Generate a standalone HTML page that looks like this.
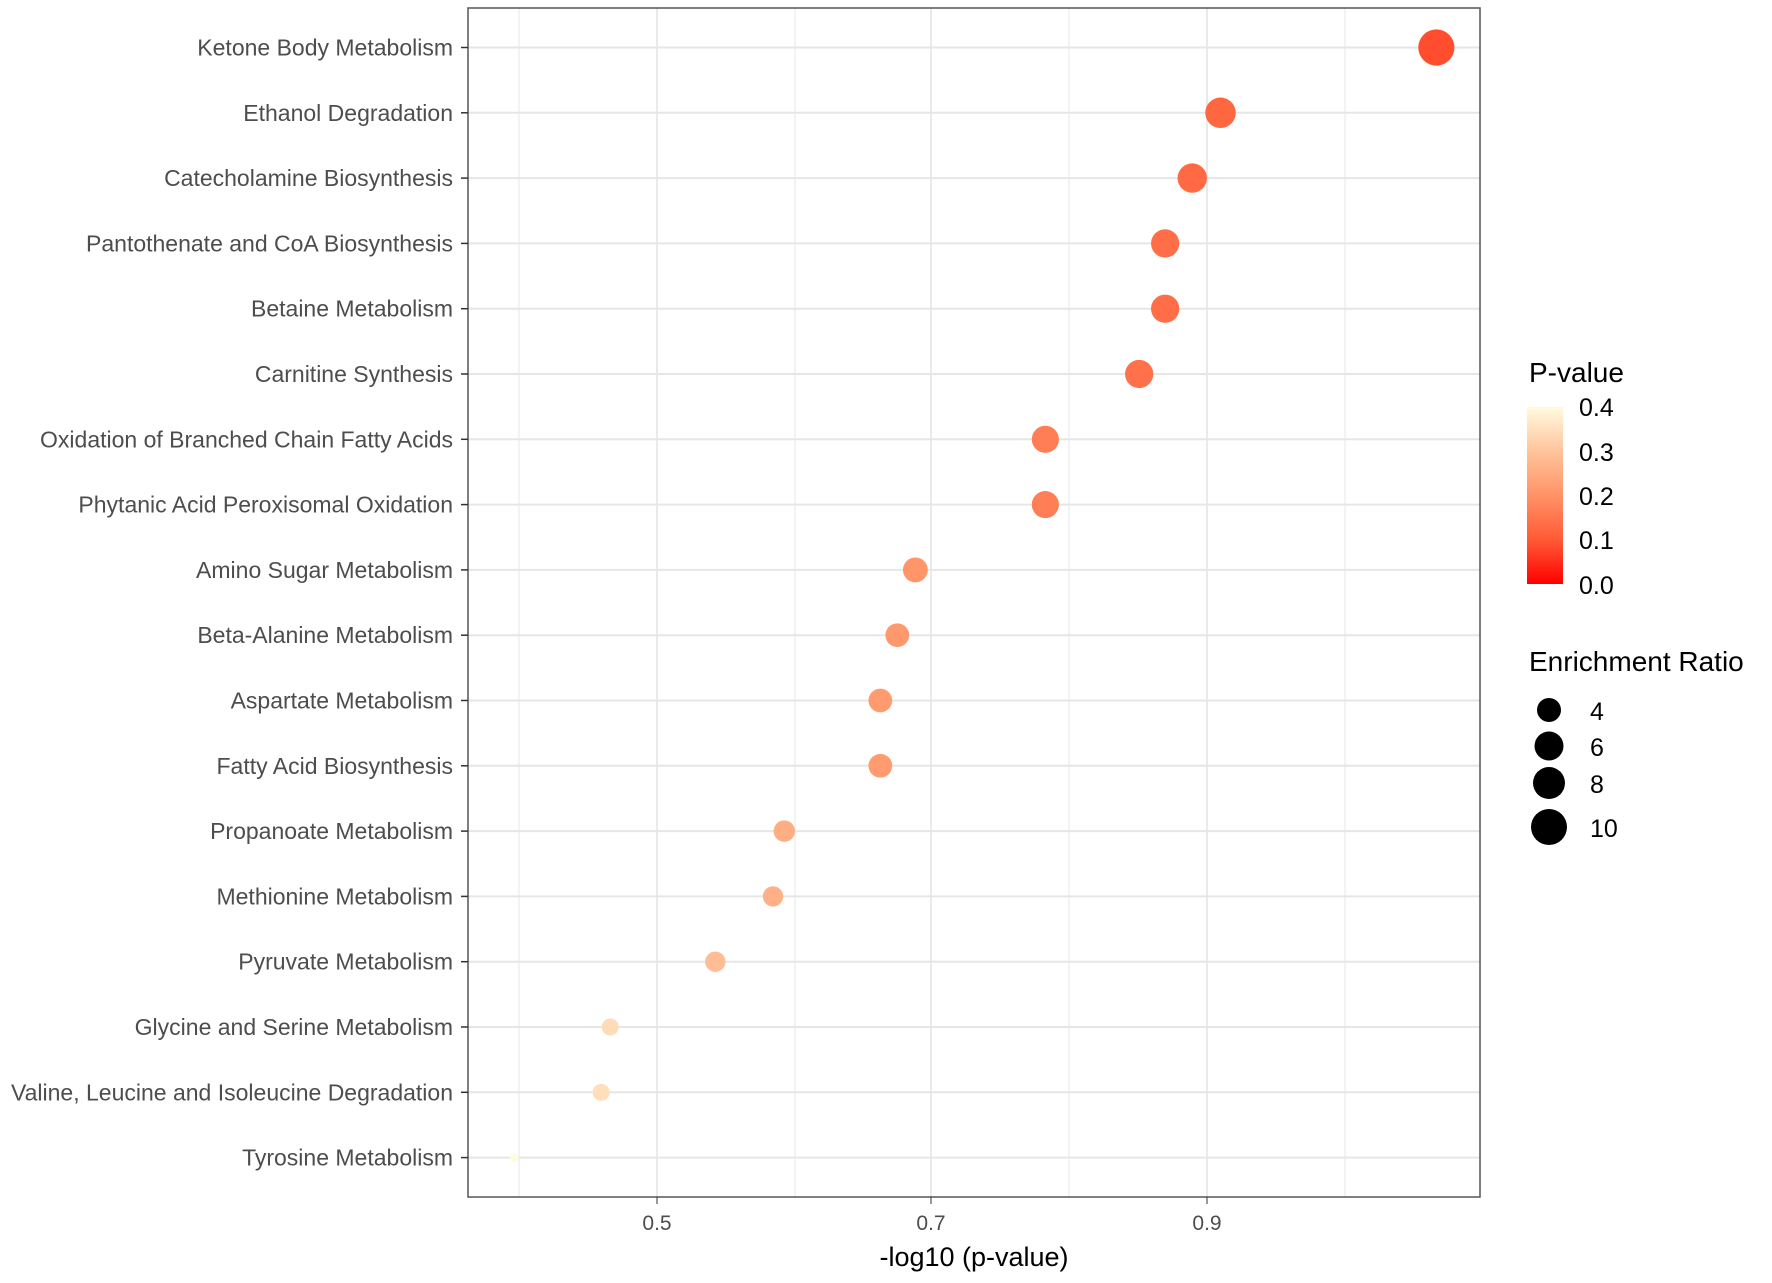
<!DOCTYPE html>
<html><head><meta charset="utf-8"><style>body{margin:0;background:#fff}svg{display:block}</style></head>
<body>
<svg id="s" width="1772" height="1283" xmlns="http://www.w3.org/2000/svg" font-family="Liberation Sans, sans-serif">
<defs><linearGradient id="g" x1="0" y1="1" x2="0" y2="0">
<stop offset="0" stop-color="#FF0000"/><stop offset="0.25" stop-color="#FF5A36"/><stop offset="0.5" stop-color="#FF9266"/><stop offset="0.75" stop-color="#FFC49C"/><stop offset="1" stop-color="#FFFBE0"/></linearGradient></defs>
<rect x="468" y="8" width="1012" height="1189" fill="#fff"/>
<g id="grid"></g>
<rect x="468" y="8" width="1012" height="1189" fill="none" stroke="#555" stroke-width="1.5"/>
<g id="pts"></g>
<g font-size="21" fill="#4d4d4d" text-anchor="middle">
<text x="657" y="1230">0.5</text><text x="931" y="1230">0.7</text><text x="1207" y="1230">0.9</text></g>
<line x1="657" y1="1197" x2="657" y2="1204" stroke="#333"/><line x1="931" y1="1197" x2="931" y2="1204" stroke="#333"/><line x1="1207" y1="1197" x2="1207" y2="1204" stroke="#333"/>
<text x="974" y="1266" font-size="27" text-anchor="middle" fill="#000">-log10 (p-value)</text>
<text x="1529" y="382" font-size="28" fill="#000">P-value</text>
<rect x="1527" y="407" width="36" height="177" fill="url(#g)"/>
<g font-size="25" fill="#000"><text x="1579" y="416">0.4</text><text x="1579" y="461">0.3</text><text x="1579" y="505">0.2</text><text x="1579" y="549">0.1</text><text x="1579" y="594">0.0</text>
<text x="1529" y="671" font-size="28">Enrichment Ratio</text>
<text x="1590" y="720">4</text><text x="1590" y="756">6</text><text x="1590" y="793">8</text><text x="1590" y="837">10</text></g>
<circle cx="1549" cy="710" r="12"/><circle cx="1549" cy="746" r="14.5"/><circle cx="1549" cy="783" r="16"/><circle cx="1549" cy="827" r="18"/>
</svg>
<script>
var names=["Ketone Body Metabolism","Ethanol Degradation","Catecholamine Biosynthesis","Pantothenate and CoA Biosynthesis","Betaine Metabolism","Carnitine Synthesis","Oxidation of Branched Chain Fatty Acids","Phytanic Acid Peroxisomal Oxidation","Amino Sugar Metabolism","Beta-Alanine Metabolism","Aspartate Metabolism","Fatty Acid Biosynthesis","Propanoate Metabolism","Methionine Metabolism","Pyruvate Metabolism","Glycine and Serine Metabolism","Valine, Leucine and Isoleucine Degradation","Tyrosine Metabolism"];
var xs=[1271,1080,1055,1031,1031,1008,925,925,810,794,779,779,694,684,633,540,532,455];
var rs=[16,13.5,13,12.5,12.5,12.5,12,12,11,10.5,10.5,10.5,9.5,9,9,7.5,7.5,4];
var S=1.1301,ns="http://www.w3.org/2000/svg";
var stops=[[255,0,0],[255,90,54],[255,146,102],[255,196,156],[255,251,224]];
function col(p){var t=Math.max(0,Math.min(1,p/0.4))*4,i=Math.min(3,Math.floor(t)),f=t-i,a=stops[i],b=stops[i+1];
return "rgb("+a.map((v,k)=>Math.round(v+(b[k]-v)*f)).join(",")+")";}
function el(t,at,par,txt){var e=document.createElementNS(ns,t);for(var k in at)e.setAttribute(k,at[k]);if(txt)e.textContent=txt;par.appendChild(e);return e;}
var g=document.getElementById("grid"),P=document.getElementById("pts"),s=document.getElementById("s");
[519,795,1069,1345].forEach(x=>el("line",{x1:x,x2:x,y1:8,y2:1197,stroke:"#ebebeb","stroke-width":1.2},g));
[657,931,1207].forEach(x=>el("line",{x1:x,x2:x,y1:8,y2:1197,stroke:"#e4e4e4","stroke-width":1.5},g));
for(var i=0;i<18;i++){var y=47.5+i*65.3;
el("line",{x1:468,x2:1480,y1:y,y2:y,stroke:"#e6e6e6","stroke-width":2},g);
el("line",{x1:461,x2:468,y1:y,y2:y,stroke:"#333","stroke-width":1.5},s);
el("text",{x:453,y:y+8,"font-size":23,"text-anchor":"end",fill:"#4d4d4d"},s,names[i]);
var xv=0.5+(xs[i]-581)/1217.5,p=Math.pow(10,-xv);
el("circle",{cx:xs[i]*S,cy:y,r:rs[i]*S,fill:col(p)},P);}
</script>
</body></html>
